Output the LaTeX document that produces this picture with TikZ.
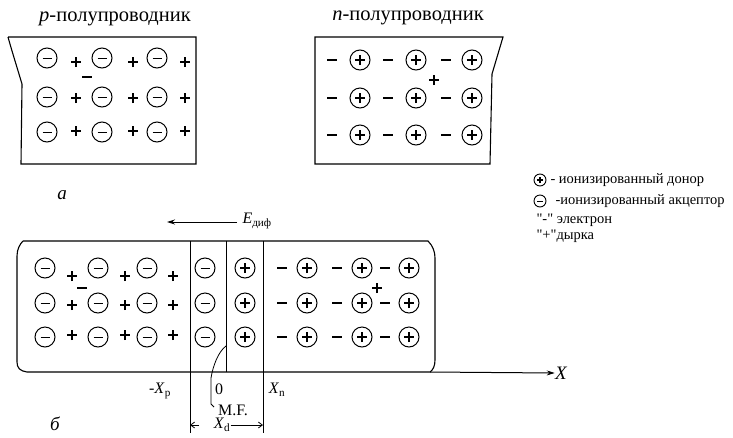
\documentclass[tikz,border=0pt]{standalone}
\usepackage{fontspec}
\setmainfont{Liberation Serif}
\newfontfamily\legfont{Liberation Serif}[Ligatures=TeXOff]
\usetikzlibrary{arrows.meta}
\begin{document}
\begin{tikzpicture}[x=1pt,y=-1pt,
  line width=1pt,
  acc/.style={circle,draw,line width=1pt,minimum size=20pt,inner sep=0pt,
    path picture={\draw[line width=0.9pt] ([xshift=-4.5pt]path picture bounding box.center) -- ([xshift=4.5pt]path picture bounding box.center);}},
  don/.style={circle,draw,line width=1pt,minimum size=20pt,inner sep=0pt,
    path picture={\draw[line width=1.7pt] ([xshift=-5pt]path picture bounding box.center) -- ([xshift=5pt]path picture bounding box.center)
      ([yshift=-5pt]path picture bounding box.center) -- ([yshift=5pt]path picture bounding box.center);}},
  sacc/.style={circle,draw,line width=0.9pt,minimum size=12pt,inner sep=0pt,
    path picture={\draw[line width=0.8pt] ([xshift=-3pt]path picture bounding box.center) -- ([xshift=3pt]path picture bounding box.center);}},
  sdon/.style={circle,draw,line width=0.9pt,minimum size=12pt,inner sep=0pt,
    path picture={\draw[line width=1.2pt] ([xshift=-3.2pt]path picture bounding box.center) -- ([xshift=3.2pt]path picture bounding box.center)
      ([yshift=-3.2pt]path picture bounding box.center) -- ([yshift=3.2pt]path picture bounding box.center);}},
  hole/.style={minimum size=11pt,inner sep=0pt,
    path picture={\draw[line width=2.2pt] ([xshift=-5pt]path picture bounding box.center) -- ([xshift=5pt]path picture bounding box.center)
      ([yshift=-5pt]path picture bounding box.center) -- ([yshift=5pt]path picture bounding box.center);}},
  elec/.style={minimum size=11pt,inner sep=0pt,
    path picture={\draw[line width=1.3pt] ([xshift=-5pt]path picture bounding box.center) -- ([xshift=5pt]path picture bounding box.center);}},
  title/.style={inner sep=0pt,font=\fontsize{20.5}{24}\selectfont},
  lbl/.style={inner sep=0pt,font=\fontsize{16}{18}\selectfont},
  leg/.style={inner sep=0pt,anchor=west,font=\legfont\fontsize{14.5}{16}\selectfont},
  box/.style={line width=1.1pt}]
\useasboundingbox (0,0) rectangle (733,437);

% ---------- titles ----------
\node[title] (tp) at (115,19) {\textit{p}-полупроводник};
\node[title] (tn) at (408,18) {\textit{n}-полупроводник};

% ---------- top p box ----------
\draw[box] (8,37) -- (196,37) -- (196,164) -- (21,164) -- (22,84) .. controls (16,64) and (11,48) .. (8,37);
\foreach \r/\y/\yh in {1/58/62, 2/97/98, 3/132/131}{
  \foreach \c/\x in {1/47, 2/102, 3/157}{ \node[acc] (pa\r\c) at (\x,\y) {}; }
  \foreach \c/\x in {1/76, 2/133, 3/185}{ \node[hole] (ph\r\c) at (\x,\yh) {}; }
}
\node[elec] (pe0) at (87,77) {};

% ---------- top n box ----------
\draw[box] (315,37) -- (503,37) -- (492,74) -- (490,164) -- (315,164) -- cycle;
\foreach \r/\y in {1/60, 2/98, 3/135}{
  \foreach \c/\x in {1/332, 2/388, 3/446}{ \node[elec] (ne\r\c) at (\x,\y) {}; }
  \foreach \c/\x in {1/360, 2/416, 3/472}{ \node[don] (nd\r\c) at (\x,\y) {}; }
}
\node[hole] (nh0) at (434,80) {};

% ---------- label a ----------
\node[lbl,font=\fontsize{19}{20}\selectfont\itshape] (la) at (62,195) {a};

% ---------- legend ----------
\node[sdon] (lg1) at (540,180) {};
\node[leg] (lt1) at (550,180) {- ионизированный донор};
\node[sacc] (lg2) at (540,201) {};
\node[leg] (lt2) at (555,201) {-ионизированный акцептор};
\node[leg] (lt3) at (536,220) {"-" электрон};
\node[leg] (lt4) at (536,236) {"+"дырка};

% ---------- E field ----------
\node[lbl,anchor=west] (E) at (242,221) {\textit{E}\textsubscript{диф}};
\coordinate (Etip) at (167,222);
\draw[line width=0.9pt,-{Stealth[length=8pt,width=5pt]}] ([xshift=-5pt]E.west |- Etip) -- (Etip);

% ---------- bottom box ----------
\draw[box] (23,241) -- (428,241) .. controls (433,246) and (435,252) .. (435,258)
  -- (435,360) .. controls (435,366) and (433,370) .. (430,372) -- (27,372)
  .. controls (20,371) and (17,368) .. (17,362) -- (17,256) .. controls (17,249) and (20,244) .. (23,241);
\coordinate (axs) at (430,372);
\node[lbl,font=\fontsize{19}{20}\selectfont\itshape] (X) at (561,373) {X};
\draw[line width=1pt,-{Stealth[length=8pt,width=5pt]}] (axs) -- (X.west);

\draw[line width=1pt] (190,241) -- (190,433);
\draw[line width=1pt] (226,241) -- (226,372);
\draw[line width=1pt] (263,241) -- (263,433);

\foreach \r/\y/\yh in {1/268/276, 2/303/305, 3/337/335}{
  \foreach \c/\x in {1/45, 2/98, 3/147}{ \node[acc] (ba\r\c) at (\x,\y) {}; }
  \foreach \c/\x in {1/72, 2/125, 3/173}{ \node[hole] (bh\r\c) at (\x,\yh) {}; }
  \node[acc] (da\r) at (205,\y) {};
  \node[don] (dd\r) at (245,\y) {};
  \foreach \c/\x in {1/282, 2/337, 3/385}{ \node[elec] (be\r\c) at (\x,\y) {}; }
  \foreach \c/\x in {1/307, 2/362, 3/409}{ \node[don] (bd\r\c) at (\x,\y) {}; }
}
\node[elec] (be0) at (82,288) {};
\node[hole] (bh0) at (377,288) {};

% ---------- axis labels ----------
\node[lbl] (xp) at (160,391) {-\textit{X}\textsubscript{р}};
\node[lbl] (x0) at (219,389) {0};
\node[lbl] (xn) at (277,390) {\textit{X}\textsubscript{n}};
\node[lbl] (mf) at (233,410) {M.F.};
\coordinate (mfs) at (226,346);
\draw[line width=0.8pt] (mfs) .. controls (218,352) and (213,366) .. (211,378) -- (211,404) -- (214,407);

% ---------- X_d dimension ----------
\node[lbl] (xd) at (222,425) {\textit{X}\textsubscript{d}};
\coordinate (dl) at (190,425);
\coordinate (dr) at (263,425);
\draw[line width=0.8pt,-{Straight Barb[length=4pt,width=6pt]}] (199,425) -- (dl);
\draw[line width=0.8pt,-{Straight Barb[length=4pt,width=6pt]}] (xd.east) -- (dr);

% ---------- label b ----------
\node[lbl,font=\fontsize{19}{20}\selectfont\itshape] (lb) at (55,424) {б};
\end{tikzpicture}
\end{document}
